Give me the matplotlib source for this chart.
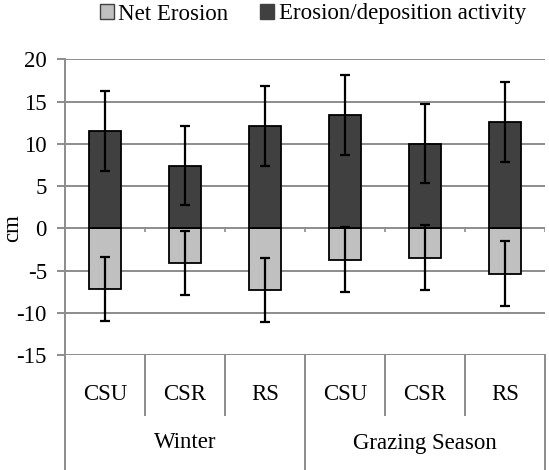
import matplotlib
matplotlib.use("Agg")
import matplotlib.pyplot as plt
from matplotlib.patches import Patch
import numpy as np

categories = ["CSU", "CSR", "RS", "CSU", "CSR", "RS"]
groups = ["Winter", "Grazing Season"]
net_erosion = [-7.2, -4.1, -7.3, -3.7, -3.5, -5.4]
net_err = [3.8, 3.8, 3.8, 3.85, 3.85, 3.85]
activity = [11.5, 7.4, 12.1, 13.4, 10.0, 12.6]
activity_err = [4.7, 4.65, 4.7, 4.7, 4.7, 4.7]
yticks = [-15, -10, -5, 0, 5, 10, 15, 20]

plt.rcParams['font.family'] = ['Liberation Serif', 'DejaVu Serif']
FS = 16.5
W, H = 549, 470
fig = plt.figure(figsize=(W / 100, H / 100), dpi=100)
x0, x1 = 65, 545
ytop, ybot = 59.3, 355
ax = fig.add_axes([x0 / W, 1 - ybot / H, (x1 - x0) / W, (ybot - ytop) / H])

grid_c = "#8c8c8c"
light = "#c0c0c0"
dark = "#404040"

x = np.arange(len(categories)) + 0.5
for yv in yticks:
    ax.axhline(yv, color=grid_c, lw=1.4, zorder=0)

ek = dict(ecolor="black", elinewidth=1.6, capsize=3.8, capthick=1.6)
ax.bar(x, net_erosion, width=0.4, color=light, edgecolor="black", lw=1.3,
       yerr=net_err, error_kw=ek, zorder=2)
ax.bar(x, activity, width=0.4, color=dark, edgecolor="black", lw=1.3,
       yerr=activity_err, error_kw=ek, zorder=2)

ax.set_xlim(0, len(categories))
ax.set_ylim(-15, 20)
ax.set_yticks(yticks)
ax.set_yticklabels([str(v) for v in yticks], fontsize=FS)
ax.tick_params(axis='y', length=6, width=1.4, color=grid_c, pad=7)
ax.set_xticks([])
for s in ["top", "right", "bottom"]:
    ax.spines[s].set_visible(False)
ax.spines["left"].set_color(grid_c)
ax.spines["left"].set_linewidth(1.4)
fig.text(13 / W, 1 - 228 / H, "cm", rotation=90, ha="center", va="center", fontsize=FS)

# small category ticks on zero line
ax.vlines(np.arange(1, len(categories) + 1), 0, -0.5, color=grid_c, lw=1.2, zorder=1)

# multi-level category axis
tr = ax.get_xaxis_transform()
axh = ybot - ytop
sub_bot = -(414.5 - ybot) / axh
grp_bot = -(472 - ybot) / axh
for i in range(len(categories) + 1):
    is_group = i % 3 == 0
    ax.plot([i, i], [0, grp_bot if is_group else sub_bot], transform=tr,
            color=grid_c, lw=1.4, clip_on=False)
for xi, lab in zip(x, categories):
    ax.text(xi, -(395 - ybot) / axh, lab, transform=tr, ha="center", va="center", fontsize=FS)
for gi, g in enumerate(groups):
    ax.text(gi * 3 + 1.5, -(443 - ybot) / axh, g, transform=tr, ha="center", va="center", fontsize=FS)

handles = [Patch(facecolor=light, edgecolor="#404040", lw=1.0, label="Net Erosion"),
           Patch(facecolor=dark, edgecolor="#404040", lw=1.0, label="Erosion/deposition activity")]
fig.legend(handles=handles, loc="center", bbox_to_anchor=(313 / W, 1 - 14 / H), ncol=2,
           frameon=False, fontsize=FS, handlelength=0.6, handleheight=0.6,
           handletextpad=0.2, columnspacing=1.4, borderaxespad=0)

fig.savefig("out.png", dpi=100)
